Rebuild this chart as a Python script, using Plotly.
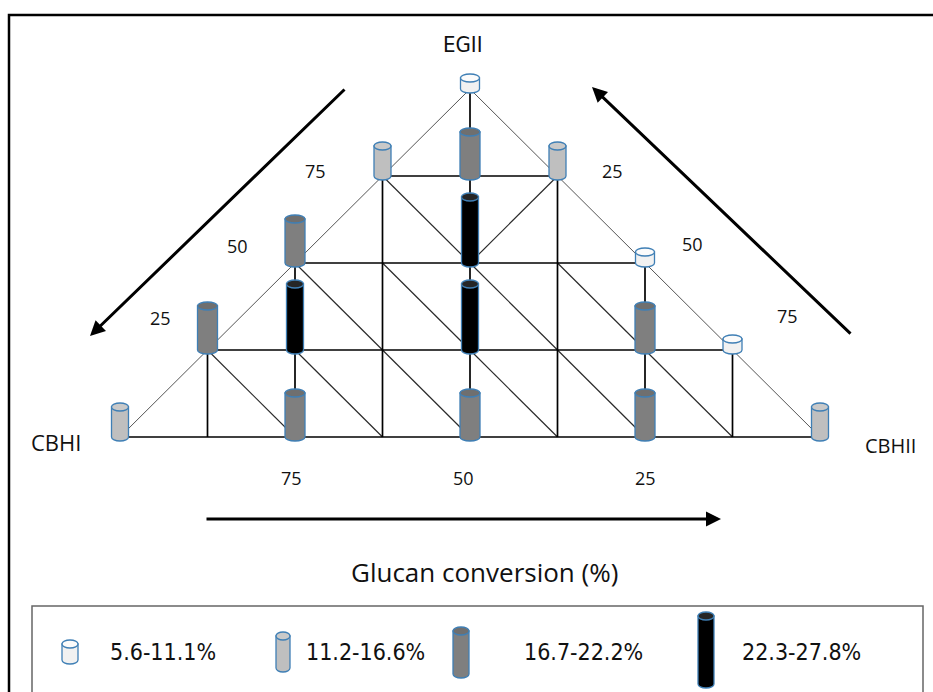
import plotly.graph_objects as go

# ---------------- data ----------------
categories = ["5.6-11.1%", "11.2-16.6%", "16.7-22.2%", "22.3-27.8%"]
# lattice position of each measured mixture (column along the base, row = EGII level)
point_col = [0, 2, 4, 6, 8, 1, 2, 4, 6, 7, 2, 4, 6, 3, 4, 5, 4]
point_row = [0, 0, 0, 0, 0, 1, 1, 1, 1, 1, 2, 2, 2, 3, 3, 3, 4]
point_cls = [1, 2, 2, 2, 1, 2, 3, 3, 2, 0, 2, 3, 0, 1, 2, 1, 0]
side_ticks = ["25", "50", "75"]
base_ticks = ["75", "50", "25"]

# ---------------- styles ----------------
W, H = 933, 692
SX, SY = 87.5, 87.0          # pixels per lattice unit
OX, OY = 120.0, 437.0        # pixel position of lattice origin
body_col = ["#f1f1f1", "#bfbfbf", "#7f7f7f", "#000000"]
top_col = ["#fbfbfb", "#c9c9c9", "#6f6f6f", "#262626"]
cyl_h = [11, 30, 44, 66]      # px body height
cyl_w = [19, 17, 20, 17]      # px width
EB = 4.0                      # ellipse half-height px
OUT = "#3f7fb5"


def P(px, py):
    return px / W, 1 - py / H


fig = go.Figure()

# ---------------- lattice lines ----------------
N = 8
def seg_list():
    thick, thin, edge = [], [], []
    for r in range(0, 4):
        thick.append(((r, r), (N - r, r)))
    for c in range(1, N):
        top = min(c, N - c)
        thick.append(((c, 0), (c, top)))
    edge.append(((0, 0), (4, 4)))
    edge.append(((4, 4), (8, 0)))
    for r in range(1, 4):
        for c in range(r, N - r):
            if r == 3 and c == 4:
                continue
            thin.append(((c, r), (c + 1, r - 1)))
    thin.append(((5, 3), (4, 2)))
    return thick, thin, edge

def to_xy(segs):
    xs, ys = [], []
    for (a, b) in segs:
        xs += [a[0], b[0], None]
        ys += [a[1], b[1], None]
    return xs, ys

thick, thin, edge = seg_list()
for segs, w, col in [(edge, 1.0, "#555555"), (thin, 1.2, "#2a2a2a"), (thick, 1.7, "#000000")]:
    xs, ys = to_xy(segs)
    fig.add_trace(go.Scatter(x=xs, y=ys, mode="lines", line=dict(color=col, width=w),
                             hoverinfo="skip", showlegend=False))

# ---------------- cylinders ----------------
K = 0.5523

def cylinder(xc, yb, a, b, h, ref_x, ref_y, cls):
    """xc, yb: centre of bottom ellipse; a, b: semi axes; h: body height (all in ref units, y up)."""
    yt = yb + h
    path = (f"M {xc-a},{yt} L {xc-a},{yb} "
            f"C {xc-a},{yb-K*b} {xc-K*a},{yb-b} {xc},{yb-b} "
            f"C {xc+K*a},{yb-b} {xc+a},{yb-K*b} {xc+a},{yb} "
            f"L {xc+a},{yt} Z")
    fig.add_shape(type="path", path=path, xref=ref_x, yref=ref_y,
                  fillcolor=body_col[cls], line=dict(color=OUT, width=1.3), layer="above")
    fig.add_shape(type="circle", xref=ref_x, yref=ref_y,
                  x0=xc - a, x1=xc + a, y0=yt - b, y1=yt + b,
                  fillcolor=top_col[cls], line=dict(color=OUT, width=1.3), layer="above")

for c, r, k in zip(point_col, point_row, point_cls):
    a = cyl_w[k] / 2 / SX
    b = EB / SY
    h = cyl_h[k] / SY
    cylinder(c, r, a, b, h, "x", "y", k)

# ---------------- frame, legend box and icons ----------------
fig.add_shape(type="rect", xref="paper", yref="paper",
              x0=9 / W, x1=1.05, y0=-0.05, y1=1 - 15 / H,
              line=dict(color="#000000", width=2.5), layer="below")
fig.add_shape(type="rect", xref="paper", yref="paper",
              x0=32 / W, x1=923 / W, y0=-0.05, y1=1 - 606 / H,
              line=dict(color="#666666", width=1.5), layer="below")

leg_icon_x = [70, 283, 461, 706]
leg_icon_top = [640, 632, 627, 612]
leg_icon_bot = [664, 672, 678, 688]
leg_icon_w = [16, 14, 16, 16]
leg_text_x = [108, 304, 522, 740]
for i, lab in enumerate(categories):
    a = leg_icon_w[i] / 2 / W
    b = EB / H
    yb = 1 - (leg_icon_bot[i] - EB) / H
    yt = 1 - (leg_icon_top[i] + EB) / H
    cylinder(leg_icon_x[i] / W, yb, a, b, yt - yb, "paper", "paper", i)
    x, y = P(leg_text_x[i], 652)
    fig.add_annotation(x=x, y=y, xref="paper", yref="paper", text=lab, showarrow=False,
                       xanchor="left", yanchor="middle",
                       font=dict(family="Liberation Sans Narrow, DejaVu Sans Condensed, sans-serif",
                                 size=23, color="#111111"))

# ---------------- texts ----------------
MAIN_FONT = "Open Sans, Noto Sans, sans-serif"
def text(px, py, s, size, family=MAIN_FONT):
    x, y = P(px, py)
    fig.add_annotation(x=x, y=y, xref="paper", yref="paper", text=s, showarrow=False,
                       xanchor="center", yanchor="middle",
                       font=dict(family=family, size=size, color="#111111"))

text(463, 45, "EGII", 22, "Liberation Sans Narrow, DejaVu Sans Condensed, sans-serif")
text(56, 442, "CBHI", 22)
text(890, 445, "CBHII", 20)
for s, (px, py) in zip(side_ticks, [(160, 318), (237, 246), (315, 171)]):
    text(px, py, s, 18)
for s, (px, py) in zip(side_ticks, [(612, 171), (692, 244), (787, 316)]):
    text(px, py, s, 18)
for s, (px, py) in zip(base_ticks, [(291, 478), (463, 478), (645, 478)]):
    text(px, py, s, 18)
text(484, 572, "Glucan conversion (%)", 26)

# ---------------- arrows ----------------
def arrow(tail, head):
    x, y = P(*head)
    fig.add_annotation(x=x, y=y, xref="paper", yref="paper", text="",
                       showarrow=True, arrowhead=2, arrowsize=1.0, arrowwidth=3,
                       arrowcolor="#000000", standoff=0, startstandoff=0,
                       ax=tail[0] - head[0], ay=tail[1] - head[1])

arrow((346, 88), (90, 336))
arrow((852, 335), (592, 87))
arrow((205, 519), (721, 519))

fig.update_layout(
    width=W, height=H, margin=dict(l=0, r=0, t=0, b=0),
    paper_bgcolor="white", plot_bgcolor="white", showlegend=False,
    xaxis=dict(range=[-OX / SX, (W - OX) / SX], visible=False, fixedrange=True),
    yaxis=dict(range=[(OY - H) / SY, OY / SY], visible=False, fixedrange=True),
)
fig.write_html("out.html", config={"displayModeBar": False},
               post_script="document.body.style.margin='0px';")
